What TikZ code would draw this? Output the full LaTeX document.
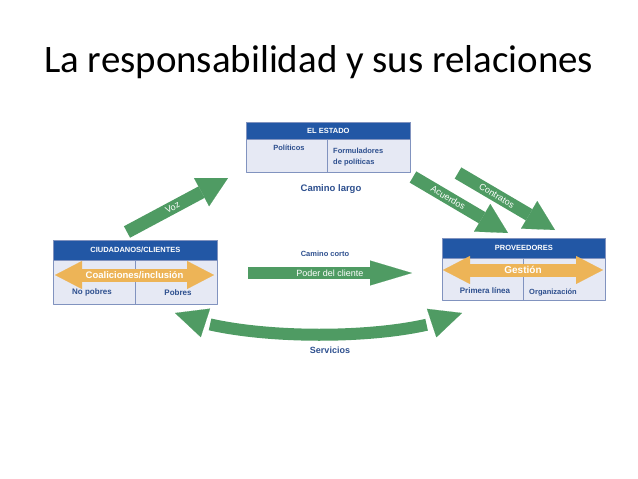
\documentclass[tikz,border=0pt]{standalone}
\usepackage{fontspec}
\setmainfont{Carlito}
\newfontfamily\boxfont{Liberation Sans}
\usetikzlibrary{arrows.meta,bending}

\definecolor{hdrblue}{HTML}{2257A5}
\definecolor{boxfill}{HTML}{E6E9F4}
\definecolor{boxline}{HTML}{8193BF}
\definecolor{labelblue}{HTML}{2D4F8E}
\definecolor{arrowgreen}{HTML}{4F9B63}
\definecolor{spanorange}{HTML}{EDB457}

\begin{document}
\begin{tikzpicture}[
  x=1pt,
  y=-1pt,
  line join=round,
  cellbox/.style={
    draw=boxline,
    fill=boxfill,
    line width=0.7pt,
    inner sep=0pt,
    anchor=north west
  },
  hdr/.style={
    draw=boxline,
    fill=hdrblue,
    text=white,
    line width=0.7pt,
    inner sep=0pt,
    anchor=north west,
    font=\boxfont\bfseries\fontsize{7.5}{9}\selectfont
  },
  divider/.style={draw=boxline,line width=0.7pt},
  celltext/.style={
    text=labelblue,
    inner sep=0pt,
    font=\boxfont\bfseries\fontsize{7.5}{11}\selectfont
  },
  pathlabel/.style={
    text=labelblue,
    inner sep=0pt,
    font=\boxfont\bfseries\fontsize{8}{10}\selectfont
  },
  wayarrow/.style={
    draw=arrowgreen,
    line width=13pt,
    -{Triangle[length=30pt,width=32pt,line width=0.1pt]}
  },
  spanarrow/.style={
    draw=spanorange,
    line width=13pt,
    {Triangle[length=27pt,width=28pt,line width=0.1pt]}-{Triangle[length=27pt,width=28pt,line width=0.1pt]}
  },
  onarrow/.style={
    text=white,
    inner sep=0pt,
    font=\boxfont\fontsize{9}{10}\selectfont
  }
]
\useasboundingbox (0,0) rectangle (638,479);

% Title of the slide.
\node[anchor=base west,inner sep=0pt,font=\fontsize{38.9}{46}\selectfont] (title)
  at (44,72) {La responsabilidad y sus relaciones};

% El Estado (top box).
\node[cellbox,minimum width=164pt,minimum height=50pt] (estadobody) at (246,122) {};
\node[hdr,minimum width=164pt,minimum height=17pt] (estado) at (246,122) {EL ESTADO};
\draw[divider] (estado.south -| 327,0) -- (estadobody.south -| 327,0);
\node[celltext] (politicos) at (289,148) {Políticos};
\node[celltext,align=left,anchor=north west] (formuladores) at (333,148) {Formuladores\\de políticas};
\node[pathlabel,font=\boxfont\bfseries\fontsize{9.5}{11}\selectfont] (largo) at (331,189) {Camino largo};

% Ciudadanos / clientes (left box).
\node[cellbox,minimum width=164pt,minimum height=64pt] (ciudbody) at (53,240) {};
\node[hdr,minimum width=164pt,minimum height=20pt] (ciud) at (53,240) {CIUDADANOS/CLIENTES};
\draw[divider] (ciud.south -| 135,0) -- (ciudbody.south -| 135,0);
\coordinate (coalL) at (55,275);
\coordinate (coalR) at (214,275);
\draw[spanarrow] (coalL) -- node[onarrow,font=\boxfont\bfseries\fontsize{9.5}{11}\selectfont] (coal) {Coaliciones/inclusión} (coalR);
\node[celltext,font=\boxfont\bfseries\fontsize{8}{10}\selectfont] (nopobres) at (92,292) {No pobres};
\node[celltext,font=\boxfont\bfseries\fontsize{8}{10}\selectfont] (pobres) at (178,293) {Pobres};

% Proveedores (right box).
\node[cellbox,minimum width=163pt,minimum height=62pt] (provbody) at (442,238) {};
\node[hdr,minimum width=163pt,minimum height=20pt] (prov) at (442,238) {PROVEEDORES};
\draw[divider] (prov.south -| 523,0) -- (provbody.south -| 523,0);
\coordinate (gestL) at (443,270);
\coordinate (gestR) at (603,270);
\draw[spanarrow] (gestL) -- node[onarrow,font=\boxfont\bfseries\fontsize{10}{12}\selectfont] (gest) {Gestión} (gestR);
\node[celltext,font=\boxfont\bfseries\fontsize{8}{10}\selectfont] (primera) at (485,291) {Primera línea};
\node[celltext] (organiz) at (553,293) {Organización};

% Long route: voice up to the state, agreements and contracts down.
\coordinate (vozA) at (127,232);
\coordinate (vozB) at (228,178);
\draw[wayarrow] (vozA) -- node[onarrow,sloped,pos=0.45] (voz) {Voz} (vozB);
\coordinate (acuA) at (413,177);
\coordinate (acuB) at (508,233);
\draw[wayarrow] (acuA) -- node[onarrow,sloped,pos=0.37] (acu) {Acuerdos} (acuB);
\coordinate (conA) at (458,173);
\coordinate (conB) at (555,230);
\draw[wayarrow] (conA) -- node[onarrow,sloped,pos=0.4] (con) {Contratos} (conB);

% Short route.
\node[pathlabel,font=\boxfont\bfseries\fontsize{7.5}{9}\selectfont] (corto) at (325,254) {Camino corto};
\coordinate (podA) at (248,273);
\coordinate (podB) at (412,273);
\draw[wayarrow,line width=12pt,-{Triangle[length=42pt,width=25pt,line width=0.1pt]}]
  (podA) -- node[onarrow] (poder) {Poder del cliente} (podB);

% Services between providers and citizens.
\coordinate (servL) at (175,313);
\coordinate (servR) at (462,313);
\draw[wayarrow,line width=12pt,
  {Triangle[length=32pt,width=30pt,line width=0.1pt]}-{Triangle[length=32pt,width=30pt,line width=0.1pt]}]
  (servL) .. controls (235,342) and (405,342) .. (servR);
\node[pathlabel,font=\boxfont\bfseries\fontsize{9}{11}\selectfont] (serv) at (330,350) {Servicios};

\end{tikzpicture}
\end{document}
